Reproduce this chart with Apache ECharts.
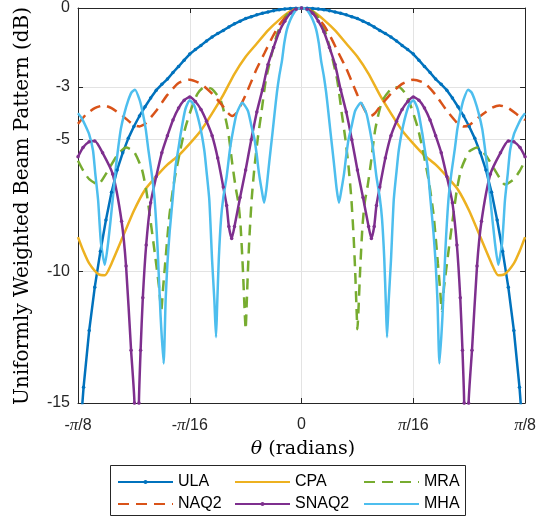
<!DOCTYPE html>
<html>
<head>
<meta charset="utf-8">
<script src="https://cdn.jsdelivr.net/npm/echarts@6/dist/echarts.min.js"></script>
<style>
  html, body { margin: 0; padding: 0; background: #fff; }
  #chart { width: 539px; height: 517px; }
</style>
</head>
<body>
<div id="chart"></div>
<script>
// θ is stored in units of π/16, so the axis spans −2 (−π/8) … 2 (π/8).
const xTicks = [-2, -1, 0, 1, 2];
const xTickLabels = ['-{pi|π}/8', '-{pi|π}/16', '0', '{pi|π}/16', '{pi|π}/8'];
const yTicks = [0, -3, -5, -10, -15];

// Beam patterns in dB, as [θ / (π/16), dB] pairs.
const ula = [
  [-2,-17.2],[-1.95,-14.4],[-1.9,-12.25],[-1.85,-10.6],[-1.8,-9.25],[-1.75,-8.05],[-1.7,-7.0],[-1.65,-6.15],
  [-1.6,-5.5],[-1.55,-4.95],[-1.5,-4.5],[-1.45,-4.1],[-1.4,-3.75],[-1.35,-3.42],[-1.3,-3.12],[-1.25,-2.9],
  [-1.2,-2.7],[-1.15,-2.45],[-1.1,-2.22],[-1.05,-1.98],[-1.0,-1.75],[-0.95,-1.58],[-0.9,-1.42],[-0.85,-1.25],
  [-0.8,-1.1],[-0.75,-0.97],[-0.7,-0.85],[-0.65,-0.72],[-0.6,-0.6],[-0.55,-0.5],[-0.5,-0.4],[-0.45,-0.33],
  [-0.4,-0.26],[-0.35,-0.2],[-0.3,-0.15],[-0.25,-0.1],[-0.2,-0.07],[-0.15,-0.04],[-0.1,-0.02],[-0.05,-0.01],
  [0,0],
  [0.05,-0.01],[0.1,-0.02],[0.15,-0.04],[0.2,-0.07],[0.25,-0.1],[0.3,-0.15],[0.35,-0.2],[0.4,-0.26],
  [0.45,-0.33],[0.5,-0.4],[0.55,-0.5],[0.6,-0.6],[0.65,-0.72],[0.7,-0.85],[0.75,-0.97],[0.8,-1.1],
  [0.85,-1.25],[0.9,-1.42],[0.95,-1.58],[1.0,-1.75],[1.05,-1.98],[1.1,-2.22],[1.15,-2.45],[1.2,-2.7],
  [1.25,-2.9],[1.3,-3.12],[1.35,-3.42],[1.4,-3.75],[1.45,-4.1],[1.5,-4.5],[1.55,-4.95],[1.6,-5.5],
  [1.65,-6.15],[1.7,-7.0],[1.75,-8.05],[1.8,-9.25],[1.85,-10.6],[1.9,-12.25],[1.95,-14.4],[2,-17.2]
];

const cpa = [
  [-2,-8.7],[-1.95,-9.25],[-1.9,-9.7],[-1.82,-10.1],[-1.76,-10.15],[-1.7,-9.7],[-1.6,-8.7],[-1.5,-7.7],
  [-1.4,-6.9],[-1.3,-6.4],[-1.2,-5.95],[-1.1,-5.6],[-1.0,-5.15],[-0.9,-4.65],[-0.8,-4.0],[-0.7,-3.3],
  [-0.6,-2.5],[-0.5,-1.85],[-0.4,-1.35],[-0.3,-0.85],[-0.2,-0.45],[-0.1,-0.12],
  [0,0],
  [0.1,-0.12],[0.2,-0.45],[0.3,-0.85],[0.4,-1.35],[0.5,-1.85],[0.6,-2.5],[0.7,-3.3],[0.8,-4.0],
  [0.9,-4.65],[1.0,-5.15],[1.1,-5.6],[1.2,-5.95],[1.3,-6.4],[1.4,-6.9],[1.5,-7.7],[1.6,-8.7],
  [1.7,-9.7],[1.76,-10.15],[1.82,-10.1],[1.9,-9.7],[1.95,-9.25],[2,-8.7]
];

const mra = [
  [-2,-5.8],[-1.95,-6.2],[-1.9,-6.5],[-1.82,-6.7],[-1.75,-6.3],[-1.65,-5.6],[-1.57,-5.3],[-1.5,-5.45],
  [-1.43,-6.1],[-1.39,-6.9],[-1.36,-7.8],[-1.31,-9.4],[-1.275,-10.6],[-1.255,-11.5],[-1.24,-10.7],[-1.22,-9.7],
  [-1.2,-8.7],[-1.18,-7.8],[-1.14,-6.6],[-1.09,-5.5],[-1.04,-4.55],[-0.98,-3.75],[-0.93,-3.25],[-0.87,-3.0],
  [-0.8,-3.08],[-0.72,-3.55],[-0.66,-4.6],[-0.62,-5.9],[-0.59,-6.8],[-0.565,-7.4],[-0.545,-8.3],[-0.525,-9.9],
  [-0.51,-11.4],[-0.5,-12.2],[-0.492,-11.4],[-0.48,-10.0],[-0.465,-8.6],[-0.445,-7.2],[-0.42,-6.0],[-0.39,-4.9],
  [-0.36,-4.0],[-0.32,-2.75],[-0.27,-1.8],[-0.22,-1.0],[-0.18,-0.6],[-0.13,-0.25],[-0.07,-0.05],
  [0,0],
  [0.07,-0.05],[0.13,-0.25],[0.18,-0.6],[0.22,-1.0],[0.27,-1.8],[0.32,-2.75],[0.36,-4.0],[0.39,-4.9],
  [0.42,-6.0],[0.445,-7.2],[0.465,-8.6],[0.48,-10.0],[0.492,-11.4],[0.5,-12.2],[0.51,-11.4],[0.525,-9.9],
  [0.545,-8.3],[0.565,-7.4],[0.59,-6.8],[0.62,-5.9],[0.66,-4.6],[0.72,-3.55],[0.8,-3.08],[0.87,-3.0],
  [0.93,-3.25],[0.98,-3.75],[1.04,-4.55],[1.09,-5.5],[1.14,-6.6],[1.18,-7.8],[1.2,-8.7],[1.22,-9.7],
  [1.24,-10.7],[1.255,-11.5],[1.275,-10.6],[1.31,-9.4],[1.36,-7.8],[1.39,-6.9],[1.43,-6.1],[1.5,-5.45],
  [1.57,-5.3],[1.65,-5.6],[1.75,-6.3],[1.82,-6.7],[1.9,-6.5],[1.95,-6.2],[2,-5.8]
];

const naq2 = [
  [-2,-4.4],[-1.93,-4.05],[-1.85,-3.8],[-1.77,-3.7],[-1.7,-3.8],[-1.6,-4.1],[-1.5,-4.45],[-1.45,-4.5],
  [-1.4,-4.4],[-1.3,-3.9],[-1.2,-3.3],[-1.1,-2.85],[-1.0,-2.72],[-0.9,-2.88],[-0.8,-3.25],[-0.7,-3.75],
  [-0.66,-3.98],[-0.62,-4.1],[-0.58,-3.98],[-0.55,-3.75],[-0.5,-3.3],[-0.46,-2.9],[-0.4,-2.3],[-0.33,-1.7],
  [-0.26,-1.1],[-0.2,-0.65],[-0.14,-0.35],[-0.07,-0.08],
  [0,0],
  [0.07,-0.08],[0.14,-0.35],[0.2,-0.65],[0.26,-1.1],[0.33,-1.7],[0.4,-2.3],[0.46,-2.9],[0.5,-3.3],
  [0.55,-3.75],[0.58,-3.98],[0.62,-4.1],[0.66,-3.98],[0.7,-3.75],[0.8,-3.25],[0.9,-2.88],[1.0,-2.72],
  [1.1,-2.85],[1.2,-3.3],[1.3,-3.9],[1.4,-4.4],[1.45,-4.5],[1.5,-4.45],[1.6,-4.1],[1.7,-3.8],
  [1.77,-3.7],[1.85,-3.8],[1.93,-4.05],[2,-4.25]
];

const snaq2 = [
  [-2,-5.65],[-1.955,-5.3],[-1.9,-5.08],[-1.85,-5.05],[-1.78,-5.5],[-1.69,-6.3],[-1.61,-8.1],[-1.57,-9.8],
  [-1.525,-13.0],[-1.495,-15.0],[-1.473,-25],[-1.455,-15.0],[-1.44,-13.0],[-1.42,-11.0],[-1.39,-9.0],[-1.35,-7.4],
  [-1.3,-6.4],[-1.25,-5.5],[-1.2,-4.85],[-1.15,-4.25],[-1.1,-3.8],[-1.05,-3.5],[-1.0,-3.38],[-0.95,-3.55],
  [-0.9,-3.85],[-0.85,-4.3],[-0.8,-4.85],[-0.75,-5.7],[-0.7,-6.8],[-0.67,-7.5],[-0.65,-8.3],[-0.625,-8.75],
  [-0.6,-8.3],[-0.55,-7.2],[-0.5,-6.15],[-0.45,-5.0],[-0.4,-3.95],[-0.35,-3.1],[-0.3,-2.15],[-0.25,-1.5],
  [-0.2,-0.9],[-0.15,-0.5],[-0.1,-0.2],[-0.05,-0.05],
  [0,0],
  [0.05,-0.05],[0.1,-0.2],[0.15,-0.5],[0.2,-0.9],[0.25,-1.5],[0.3,-2.15],[0.35,-3.1],[0.4,-3.95],
  [0.45,-5.0],[0.5,-6.15],[0.55,-7.2],[0.6,-8.3],[0.625,-8.75],[0.65,-8.3],[0.67,-7.5],[0.7,-6.8],
  [0.75,-5.7],[0.8,-4.85],[0.85,-4.3],[0.9,-3.85],[0.95,-3.55],[1.0,-3.38],[1.05,-3.5],[1.1,-3.8],
  [1.15,-4.25],[1.2,-4.85],[1.25,-5.5],[1.3,-6.4],[1.35,-7.4],[1.39,-9.0],[1.42,-11.0],[1.44,-13.0],
  [1.455,-15.0],[1.473,-25],[1.495,-15.0],[1.525,-13.0],[1.57,-9.8],[1.61,-8.1],[1.69,-6.3],[1.78,-5.5],
  [1.85,-5.05],[1.9,-5.08],[1.955,-5.3],[2,-5.65]
];

const mha = [
  [-2,-4.0],[-1.965,-4.2],[-1.93,-4.5],[-1.9,-4.8],[-1.866,-5.4],[-1.845,-6.3],[-1.82,-7.3],[-1.795,-8.9],
  [-1.76,-9.75],[-1.73,-8.9],[-1.69,-7.3],[-1.66,-6.0],[-1.64,-5.3],[-1.617,-4.6],[-1.585,-4.0],[-1.55,-3.5],
  [-1.52,-3.2],[-1.49,-3.1],[-1.448,-3.5],[-1.42,-4.0],[-1.394,-4.6],[-1.37,-5.4],[-1.34,-6.3],[-1.314,-7.3],
  [-1.287,-9.2],[-1.261,-11.7],[-1.234,-13.5],[-1.216,-11.1],[-1.2,-9.7],[-1.18,-8.5],[-1.154,-7.3],[-1.127,-6.0],
  [-1.1,-5.3],[-1.08,-4.75],[-1.04,-3.85],[-1.0,-3.5],[-0.96,-3.7],[-0.91,-4.45],[-0.87,-5.4],[-0.85,-6.2],
  [-0.825,-7.3],[-0.8,-9.6],[-0.78,-11.1],[-0.765,-12.5],[-0.755,-11.3],[-0.74,-9.5],[-0.72,-8.0],[-0.7,-7.2],
  [-0.67,-6.4],[-0.64,-5.35],[-0.61,-4.6],[-0.58,-4.0],[-0.53,-3.6],[-0.48,-3.9],[-0.45,-4.45],[-0.42,-5.0],
  [-0.4,-5.6],[-0.38,-6.3],[-0.355,-6.95],[-0.335,-7.4],[-0.315,-6.9],[-0.29,-5.9],[-0.26,-4.75],[-0.24,-3.95],
  [-0.22,-3.2],[-0.2,-2.6],[-0.175,-2.0],[-0.155,-1.35],[-0.13,-0.8],[-0.1,-0.45],[-0.07,-0.2],[-0.04,-0.05],
  [0,0],
  [0.04,-0.05],[0.07,-0.2],[0.1,-0.45],[0.13,-0.8],[0.155,-1.35],[0.175,-2.0],[0.2,-2.6],[0.22,-3.2],
  [0.24,-3.95],[0.26,-4.75],[0.29,-5.9],[0.315,-6.9],[0.335,-7.4],[0.355,-6.95],[0.38,-6.3],[0.4,-5.6],
  [0.42,-5.0],[0.45,-4.45],[0.48,-3.9],[0.53,-3.6],[0.58,-4.0],[0.61,-4.6],[0.64,-5.35],[0.67,-6.4],
  [0.7,-7.2],[0.72,-8.0],[0.74,-9.5],[0.755,-11.3],[0.765,-12.5],[0.78,-11.1],[0.8,-9.6],[0.825,-7.3],
  [0.85,-6.2],[0.87,-5.4],[0.91,-4.45],[0.96,-3.7],[1.0,-3.5],[1.04,-3.85],[1.08,-4.75],[1.1,-5.3],
  [1.127,-6.0],[1.154,-7.3],[1.18,-8.5],[1.2,-9.7],[1.216,-11.1],[1.234,-13.5],[1.261,-11.7],[1.287,-9.2],
  [1.314,-7.3],[1.34,-6.3],[1.37,-5.4],[1.394,-4.6],[1.42,-4.0],[1.448,-3.5],[1.49,-3.1],[1.52,-3.2],
  [1.55,-3.5],[1.585,-4.0],[1.617,-4.6],[1.64,-5.3],[1.66,-6.0],[1.69,-7.3],[1.73,-8.9],[1.76,-9.75],
  [1.795,-8.9],[1.82,-7.3],[1.845,-6.3],[1.866,-5.4],[1.9,-4.8],[1.93,-4.5],[1.965,-4.2],[2,-4.0]
];

const SANS = '"Liberation Sans", Arial, sans-serif';
const SERIF = '"Liberation Serif", serif';
const TITLE_SERIF = '"DejaVu Serif", "Liberation Serif", serif';
const AXIS_COLOR = '#262626';
const GRID_COLOR = '#e3e3e3';

const chart = echarts.init(document.getElementById('chart'), null, { renderer: 'canvas' });

function lineSeries(name, data, color, opts) {
  return Object.assign({
    name: name,
    type: 'line',
    data: data,
    xAxisIndex: 0,
    yAxisIndex: 0,
    smooth: 0.2,
    clip: true,
    symbol: 'none',
    lineStyle: { color: color, width: 2.5, type: 'solid' },
    itemStyle: { color: color },
    emphasis: { disabled: true },
    animation: false,
    z: 3
  }, opts || {});
}

const dash = [11, 7];

function legendColumn(items, left) {
  return {
    data: items,
    orient: 'vertical', left: left, top: 474, padding: 0,
    itemWidth: 55, itemHeight: 5, itemGap: 6,
    textStyle: { fontFamily: SANS, fontSize: 16, color: '#000', lineHeight: 16 },
    z: 10, selectedMode: false
  };
}

const option = {
  animation: false,
  backgroundColor: '#fff',
  grid: { left: 78, right: 12, top: 8, bottom: 114, containLabel: false },
  xAxis: [
    {
      type: 'value', min: -2, max: 2, interval: 1, position: 'bottom',
      axisLine: { show: true, onZero: false, lineStyle: { color: AXIS_COLOR, width: 1 } },
      axisTick: { show: true, inside: true, length: 5, lineStyle: { color: AXIS_COLOR } },
      splitLine: { show: true, lineStyle: { color: GRID_COLOR, width: 1 } },
      axisLabel: {
        margin: 14, color: '#262626', fontFamily: SANS, fontSize: 16,
        formatter: function (v) { return xTickLabels[xTicks.indexOf(Math.round(v))] || ''; },
        rich: { pi: { fontFamily: SERIF, fontStyle: 'italic', fontSize: 17, color: '#262626' } }
      }
    },
    {
      type: 'value', min: -2, max: 2, interval: 1, position: 'top',
      axisLine: { show: true, onZero: false, lineStyle: { color: AXIS_COLOR, width: 1 } },
      axisTick: { show: true, inside: true, length: 5, lineStyle: { color: AXIS_COLOR } },
      splitLine: { show: false }, axisLabel: { show: false }
    }
  ],
  yAxis: [
    {
      type: 'value', min: -15, max: 0, position: 'left',
      axisLine: { show: true, onZero: false, lineStyle: { color: AXIS_COLOR, width: 1 } },
      axisTick: { show: true, inside: true, length: 5, customValues: yTicks, lineStyle: { color: AXIS_COLOR } },
      splitLine: { show: true, lineStyle: { color: GRID_COLOR, width: 1 } },
      axisLabel: { customValues: yTicks, margin: 8, color: '#262626', fontFamily: SANS, fontSize: 16 }
    },
    {
      type: 'value', min: -15, max: 0, position: 'right',
      axisLine: { show: true, onZero: false, lineStyle: { color: AXIS_COLOR, width: 1 } },
      axisTick: { show: true, inside: true, length: 5, customValues: yTicks, lineStyle: { color: AXIS_COLOR } },
      splitLine: { show: false }, axisLabel: { show: false }
    }
  ],
  legend: [
    legendColumn(['ULA', { name: 'NAQ2', itemStyle: { opacity: 0 } }], 117),
    legendColumn([{ name: 'CPA', itemStyle: { opacity: 0 } }, 'SNAQ2'], 234),
    legendColumn([{ name: 'MRA', itemStyle: { opacity: 0 } }, { name: 'MHA', itemStyle: { opacity: 0 } }], 363)
  ],
  graphic: [
    {
      type: 'rect', z: 1,
      shape: { x: 110.5, y: 465.5, width: 355, height: 50 },
      style: { fill: '#fff', stroke: '#262626', lineWidth: 1 }
    },
    {
      type: 'text', x: 23, y: 206, rotation: Math.PI / 2,
      style: {
        text: 'Uniformly Weighted Beam Pattern (dB)', x: 0, y: 0,
        font: '20px ' + TITLE_SERIF, fill: '#000', align: 'center', verticalAlign: 'middle'
      }
    },
    {
      type: 'text', x: 303, y: 449,
      style: {
        text: '{i|θ} (radians)', x: 0, y: 0,
        font: '19px ' + TITLE_SERIF, fill: '#000', align: 'center', verticalAlign: 'middle',
        rich: { i: { fontStyle: 'italic', fontFamily: TITLE_SERIF, fontSize: 19, fill: '#000' } }
      }
    }
  ],
  series: [
    lineSeries('ULA', ula, '#0072BD', { smooth: false, symbol: 'circle', symbolSize: 3.5, showSymbol: true }),
    lineSeries('CPA', cpa, '#EDB120'),
    lineSeries('MRA', mra, '#77AC30', { lineStyle: { color: '#77AC30', width: 2.5, type: dash } }),
    lineSeries('NAQ2', naq2, '#D95319', { lineStyle: { color: '#D95319', width: 2.5, type: dash } }),
    lineSeries('SNAQ2', snaq2, '#7E2F8E', { symbol: 'circle', symbolSize: 3.5, showSymbol: true }),
    lineSeries('MHA', mha, '#4DBEEE')
  ]
};

chart.setOption(option);
</script>
</body>
</html>
